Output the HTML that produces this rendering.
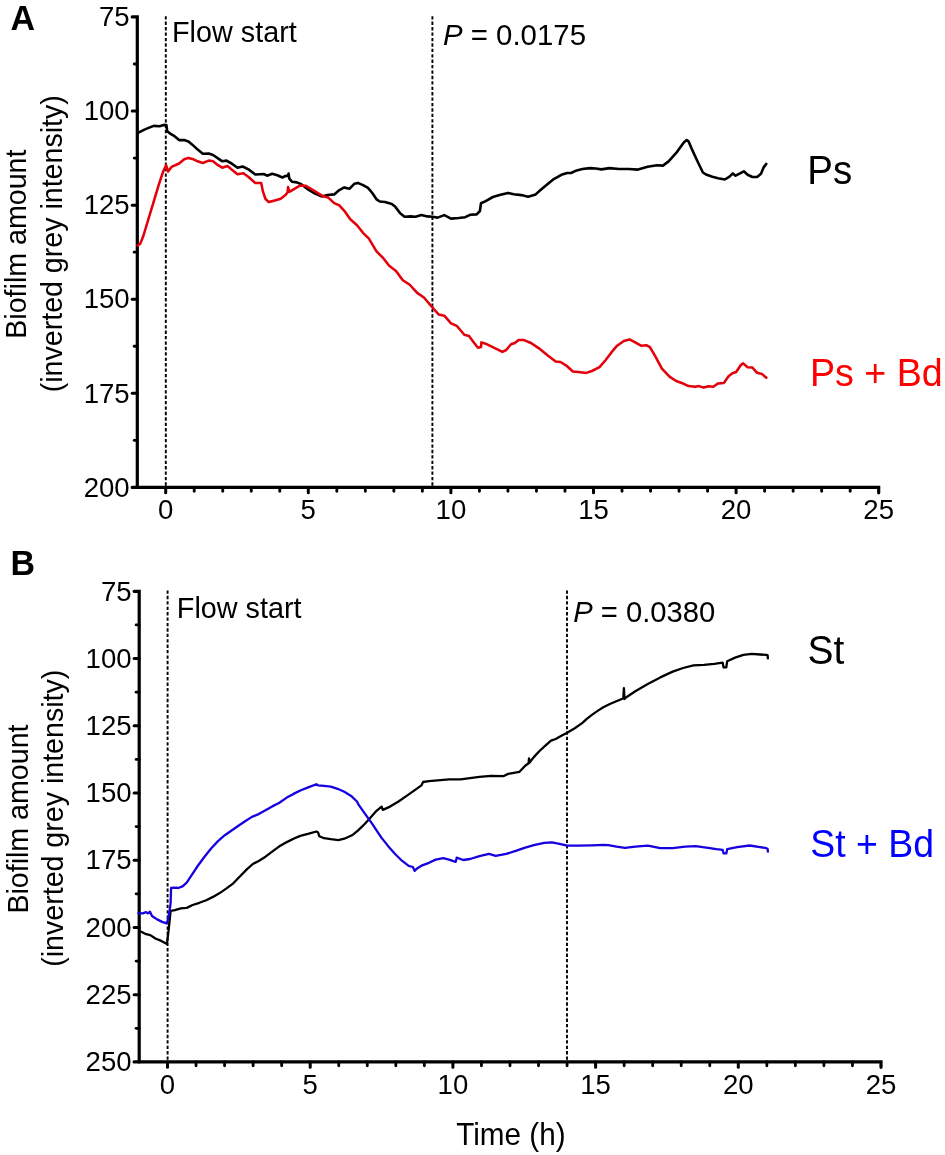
<!DOCTYPE html>
<html><head><meta charset="utf-8"><title>Figure</title>
<style>
html,body{margin:0;padding:0;background:#fff;}
body{width:945px;height:1155px;overflow:hidden;font-family:"Liberation Sans",sans-serif;}
svg{display:block;transform:translateZ(0);will-change:transform;}
text{font-family:"Liberation Sans",sans-serif;fill:#000;}
</style></head><body>
<svg width="945" height="1155" viewBox="0 0 945 1155">
<rect width="945" height="1155" fill="#fff"/>

<g id="panelA">
<line x1="165.8" y1="16.2" x2="165.8" y2="486" stroke="#000" stroke-width="1.9" stroke-dasharray="3.35 2.07"/>
<line x1="432.4" y1="16.2" x2="432.4" y2="486" stroke="#000" stroke-width="1.9" stroke-dasharray="3.35 2.07"/>
<path d="M132.20,16.95 H137.30 V487.40" fill="none" stroke="#000" stroke-width="3.2" stroke-linecap="round" stroke-linejoin="miter"/>
<path d="M132.20,487.40 H878.70 V492.80" fill="none" stroke="#000" stroke-width="3.2" stroke-linecap="round" stroke-linejoin="miter"/>
<text transform="translate(129.70,26.15) scale(1,1.035)" font-size="27.6" text-anchor="end">75</text>
<line x1="134.20" y1="64.00" x2="137.30" y2="64.00" stroke="#000" stroke-width="2.8" stroke-linecap="round"/>
<line x1="132.20" y1="111.04" x2="137.30" y2="111.04" stroke="#000" stroke-width="3" stroke-linecap="round"/>
<text transform="translate(129.70,120.24) scale(1,1.035)" font-size="27.6" text-anchor="end">100</text>
<line x1="134.20" y1="158.09" x2="137.30" y2="158.09" stroke="#000" stroke-width="2.8" stroke-linecap="round"/>
<line x1="132.20" y1="205.13" x2="137.30" y2="205.13" stroke="#000" stroke-width="3" stroke-linecap="round"/>
<text transform="translate(129.70,214.33) scale(1,1.035)" font-size="27.6" text-anchor="end">125</text>
<line x1="134.20" y1="252.18" x2="137.30" y2="252.18" stroke="#000" stroke-width="2.8" stroke-linecap="round"/>
<line x1="132.20" y1="299.22" x2="137.30" y2="299.22" stroke="#000" stroke-width="3" stroke-linecap="round"/>
<text transform="translate(129.70,308.42) scale(1,1.035)" font-size="27.6" text-anchor="end">150</text>
<line x1="134.20" y1="346.26" x2="137.30" y2="346.26" stroke="#000" stroke-width="2.8" stroke-linecap="round"/>
<line x1="132.20" y1="393.31" x2="137.30" y2="393.31" stroke="#000" stroke-width="3" stroke-linecap="round"/>
<text transform="translate(129.70,402.51) scale(1,1.035)" font-size="27.6" text-anchor="end">175</text>
<line x1="134.20" y1="440.36" x2="137.30" y2="440.36" stroke="#000" stroke-width="2.8" stroke-linecap="round"/>
<text transform="translate(129.70,496.60) scale(1,1.035)" font-size="27.6" text-anchor="end">200</text>
<line x1="165.70" y1="487.40" x2="165.70" y2="492.80" stroke="#000" stroke-width="3" stroke-linecap="round"/>
<line x1="194.22" y1="487.40" x2="194.22" y2="491.30" stroke="#000" stroke-width="2.8" stroke-linecap="round"/>
<line x1="222.74" y1="487.40" x2="222.74" y2="491.30" stroke="#000" stroke-width="2.8" stroke-linecap="round"/>
<line x1="251.26" y1="487.40" x2="251.26" y2="491.30" stroke="#000" stroke-width="2.8" stroke-linecap="round"/>
<line x1="279.78" y1="487.40" x2="279.78" y2="491.30" stroke="#000" stroke-width="2.8" stroke-linecap="round"/>
<line x1="308.30" y1="487.40" x2="308.30" y2="492.80" stroke="#000" stroke-width="3" stroke-linecap="round"/>
<line x1="336.82" y1="487.40" x2="336.82" y2="491.30" stroke="#000" stroke-width="2.8" stroke-linecap="round"/>
<line x1="365.34" y1="487.40" x2="365.34" y2="491.30" stroke="#000" stroke-width="2.8" stroke-linecap="round"/>
<line x1="393.86" y1="487.40" x2="393.86" y2="491.30" stroke="#000" stroke-width="2.8" stroke-linecap="round"/>
<line x1="422.38" y1="487.40" x2="422.38" y2="491.30" stroke="#000" stroke-width="2.8" stroke-linecap="round"/>
<line x1="450.90" y1="487.40" x2="450.90" y2="492.80" stroke="#000" stroke-width="3" stroke-linecap="round"/>
<line x1="479.42" y1="487.40" x2="479.42" y2="491.30" stroke="#000" stroke-width="2.8" stroke-linecap="round"/>
<line x1="507.94" y1="487.40" x2="507.94" y2="491.30" stroke="#000" stroke-width="2.8" stroke-linecap="round"/>
<line x1="536.46" y1="487.40" x2="536.46" y2="491.30" stroke="#000" stroke-width="2.8" stroke-linecap="round"/>
<line x1="564.98" y1="487.40" x2="564.98" y2="491.30" stroke="#000" stroke-width="2.8" stroke-linecap="round"/>
<line x1="593.50" y1="487.40" x2="593.50" y2="492.80" stroke="#000" stroke-width="3" stroke-linecap="round"/>
<line x1="622.02" y1="487.40" x2="622.02" y2="491.30" stroke="#000" stroke-width="2.8" stroke-linecap="round"/>
<line x1="650.54" y1="487.40" x2="650.54" y2="491.30" stroke="#000" stroke-width="2.8" stroke-linecap="round"/>
<line x1="679.06" y1="487.40" x2="679.06" y2="491.30" stroke="#000" stroke-width="2.8" stroke-linecap="round"/>
<line x1="707.58" y1="487.40" x2="707.58" y2="491.30" stroke="#000" stroke-width="2.8" stroke-linecap="round"/>
<line x1="736.10" y1="487.40" x2="736.10" y2="492.80" stroke="#000" stroke-width="3" stroke-linecap="round"/>
<line x1="764.62" y1="487.40" x2="764.62" y2="491.30" stroke="#000" stroke-width="2.8" stroke-linecap="round"/>
<line x1="793.14" y1="487.40" x2="793.14" y2="491.30" stroke="#000" stroke-width="2.8" stroke-linecap="round"/>
<line x1="821.66" y1="487.40" x2="821.66" y2="491.30" stroke="#000" stroke-width="2.8" stroke-linecap="round"/>
<line x1="850.18" y1="487.40" x2="850.18" y2="491.30" stroke="#000" stroke-width="2.8" stroke-linecap="round"/>
<text transform="translate(165.70,519.10) scale(1,1.035)" font-size="27.6" text-anchor="middle">0</text>
<text transform="translate(308.30,519.10) scale(1,1.035)" font-size="27.6" text-anchor="middle">5</text>
<text transform="translate(450.90,519.10) scale(1,1.035)" font-size="27.6" text-anchor="middle">10</text>
<text transform="translate(593.50,519.10) scale(1,1.035)" font-size="27.6" text-anchor="middle">15</text>
<text transform="translate(736.10,519.10) scale(1,1.035)" font-size="27.6" text-anchor="middle">20</text>
<text transform="translate(878.70,519.10) scale(1,1.035)" font-size="27.6" text-anchor="middle">25</text>
<path d="M137.6,133.2 L138.5,132.7 L144.4,129.6 L148.6,127.9 L153.7,125.9 L159.6,126.2 L163.9,124.9 L166.4,125.1 L167.2,131.3 L170.6,133.9 L174.9,136.4 L179.1,140.1 L184.2,140.1 L188.4,141.5 L192.6,144.9 L197.7,149.6 L202.8,153.8 L208.7,153.5 L213.0,155.0 L218.0,158.4 L222.3,161.3 L226.5,160.6 L231.6,163.5 L237.5,167.7 L242.6,166.5 L248.5,169.4 L255.3,174.5 L260.4,174.2 L263.8,174.0 L267.1,175.7 L272.2,173.7 L277.3,175.3 L282.4,177.5 L285.1,176.1 L288.2,175.6 L288.6,173.6 L289.3,178.6 L291.9,181.7 L296.9,182.4 L301.2,184.2 L307.1,188.8 L313.9,193.0 L321.5,196.4 L327.4,195.0 L334.2,194.4 L339.3,190.1 L344.3,187.4 L349.4,188.8 L354.5,183.7 L357.9,182.9 L363.0,185.1 L368.0,187.9 L372.3,193.0 L376.5,199.3 L379.9,201.5 L385.0,202.0 L391.8,204.0 L395.1,206.6 L400.2,213.3 L404.5,216.7 L410.4,216.4 L415.5,216.7 L421.4,215.0 L427.3,216.4 L432.4,216.7 L437.6,217.6 L444.3,215.1 L451.0,218.6 L458.6,218.0 L465.2,217.2 L470.0,214.8 L476.7,214.4 L479.9,211.0 L481.0,203.3 L485.2,201.4 L492.9,197.0 L500.5,194.8 L508.1,192.9 L513.8,194.2 L521.4,195.1 L528.1,196.7 L535.7,194.4 L540.5,190.0 L546.2,185.2 L553.8,179.1 L561.4,174.8 L567.1,173.0 L571.0,173.0 L576.7,170.4 L582.4,169.0 L590.0,168.1 L595.7,168.5 L601.4,169.4 L609.5,168.1 L619.0,169.0 L628.6,169.0 L638.1,169.6 L647.6,166.8 L657.1,165.2 L662.9,165.6 L668.6,161.4 L676.2,152.9 L683.8,142.4 L686.7,140.1 L688.6,141.4 L691.4,148.1 L697.1,160.5 L702.9,172.5 L706.7,174.8 L712.4,176.7 L718.1,178.2 L724.8,179.5 L729.5,176.7 L732.8,173.4 L735.6,175.7 L740.0,173.4 L743.8,171.3 L747.6,174.8 L752.4,177.0 L757.1,177.0 L761.0,173.8 L763.8,167.1 L766.3,163.9" fill="none" stroke="#000" stroke-width="2.6" stroke-linejoin="round" stroke-linecap="round"/>
<path d="M137.6,245.3 L140.2,243.9 L143.5,235.5 L148.6,218.5 L153.7,201.6 L158.8,184.7 L163.0,172.0 L166.1,165.2 L168.1,171.5 L171.5,166.9 L179.1,163.5 L184.2,159.3 L188.4,157.9 L193.5,159.3 L197.7,161.3 L202.8,163.0 L208.7,160.6 L213.0,161.3 L218.0,165.2 L222.3,167.7 L227.4,166.0 L231.6,169.4 L237.5,174.2 L243.4,173.3 L248.5,177.0 L255.3,183.0 L261.2,183.0 L262.9,191.4 L265.5,199.0 L268.8,202.1 L273.9,200.7 L280.7,198.7 L285.8,194.8 L287.6,192.2 L288.1,187.1 L289.3,191.8 L294.4,188.8 L300.3,185.4 L305.4,185.7 L313.9,190.5 L322.3,195.9 L328.3,197.6 L334.2,203.2 L339.3,205.4 L344.3,210.8 L350.3,219.3 L357.0,225.2 L363.0,232.8 L368.9,238.7 L376.5,251.4 L383.3,258.2 L389.2,265.8 L396.0,270.9 L402.8,280.2 L409.5,284.5 L417.2,292.9 L423.9,297.5 L432.4,307.3 L433.8,309.0 L438.6,314.4 L444.3,315.7 L451.0,323.3 L456.7,325.8 L464.3,334.8 L469.0,336.1 L473.8,342.4 L478.0,347.7 L481.0,347.1 L481.4,342.4 L487.1,344.3 L494.8,348.1 L502.4,351.9 L506.2,350.0 L511.0,344.3 L514.8,343.0 L518.6,339.9 L523.3,339.9 L531.0,343.0 L538.6,348.1 L548.1,355.7 L555.7,361.4 L560.5,362.0 L567.1,366.2 L572.9,371.5 L580.5,372.3 L586.2,372.9 L591.9,371.0 L599.5,367.1 L605.7,360.0 L611.4,352.4 L617.1,345.7 L623.8,341.0 L629.5,339.4 L635.2,342.3 L641.0,345.7 L646.7,345.3 L649.9,347.2 L655.2,356.2 L661.9,368.6 L669.5,376.6 L676.2,381.0 L683.8,383.8 L688.6,386.1 L695.2,386.7 L699.0,386.1 L703.8,387.6 L708.6,386.3 L713.3,386.7 L718.1,383.4 L723.8,382.9 L728.6,376.2 L732.4,373.3 L736.2,372.0 L741.0,364.8 L743.2,363.4 L747.6,367.2 L752.4,367.6 L757.1,372.8 L761.9,373.9 L766.3,377.7" fill="none" stroke="#e3000b" stroke-width="2.55" stroke-linejoin="round" stroke-linecap="round"/>
<text transform="translate(10.5,29.6) scale(1,1.035)" font-size="34" font-weight="bold">A</text>
<text transform="translate(172.0,41.8) scale(1,1.035)" font-size="28.8">Flow start</text>
<text transform="translate(443,44.9) scale(1,1.035)" font-size="29.4"><tspan font-style="italic">P</tspan> = 0.0175</text>
<text transform="translate(807.3,184) scale(1,1.035)" font-size="38.5">Ps</text>
<text transform="translate(810,385.9) scale(1,1.035)" font-size="37.6" style="fill:#ff0000">Ps + Bd</text>
<text transform="translate(26.0,338.7) rotate(-90) scale(1,1.035)" font-size="28.6">Biofilm amount</text>
<text transform="translate(62.0,392.3) rotate(-90) scale(1,1.035)" font-size="28.6">(inverted grey intensity)</text>
</g>
<g id="panelB">
<line x1="167.6" y1="590.4" x2="167.6" y2="1060" stroke="#000" stroke-width="1.9" stroke-dasharray="3.35 2.07"/>
<line x1="567" y1="590.4" x2="567" y2="1060" stroke="#000" stroke-width="1.9" stroke-dasharray="3.35 2.07"/>
<path d="M134.10,591.30 H139.20 V1061.90" fill="none" stroke="#000" stroke-width="3.2" stroke-linecap="round" stroke-linejoin="miter"/>
<path d="M134.10,1061.90 H881.00 V1067.30" fill="none" stroke="#000" stroke-width="3.2" stroke-linecap="round" stroke-linejoin="miter"/>
<text transform="translate(131.60,600.50) scale(1,1.035)" font-size="27.6" text-anchor="end">75</text>
<line x1="136.10" y1="624.91" x2="139.20" y2="624.91" stroke="#000" stroke-width="2.8" stroke-linecap="round"/>
<line x1="134.10" y1="658.53" x2="139.20" y2="658.53" stroke="#000" stroke-width="3" stroke-linecap="round"/>
<text transform="translate(131.60,667.73) scale(1,1.035)" font-size="27.6" text-anchor="end">100</text>
<line x1="136.10" y1="692.14" x2="139.20" y2="692.14" stroke="#000" stroke-width="2.8" stroke-linecap="round"/>
<line x1="134.10" y1="725.76" x2="139.20" y2="725.76" stroke="#000" stroke-width="3" stroke-linecap="round"/>
<text transform="translate(131.60,734.96) scale(1,1.035)" font-size="27.6" text-anchor="end">125</text>
<line x1="136.10" y1="759.38" x2="139.20" y2="759.38" stroke="#000" stroke-width="2.8" stroke-linecap="round"/>
<line x1="134.10" y1="792.99" x2="139.20" y2="792.99" stroke="#000" stroke-width="3" stroke-linecap="round"/>
<text transform="translate(131.60,802.19) scale(1,1.035)" font-size="27.6" text-anchor="end">150</text>
<line x1="136.10" y1="826.61" x2="139.20" y2="826.61" stroke="#000" stroke-width="2.8" stroke-linecap="round"/>
<line x1="134.10" y1="860.22" x2="139.20" y2="860.22" stroke="#000" stroke-width="3" stroke-linecap="round"/>
<text transform="translate(131.60,869.42) scale(1,1.035)" font-size="27.6" text-anchor="end">175</text>
<line x1="136.10" y1="893.84" x2="139.20" y2="893.84" stroke="#000" stroke-width="2.8" stroke-linecap="round"/>
<line x1="134.10" y1="927.45" x2="139.20" y2="927.45" stroke="#000" stroke-width="3" stroke-linecap="round"/>
<text transform="translate(131.60,936.65) scale(1,1.035)" font-size="27.6" text-anchor="end">200</text>
<line x1="136.10" y1="961.07" x2="139.20" y2="961.07" stroke="#000" stroke-width="2.8" stroke-linecap="round"/>
<line x1="134.10" y1="994.68" x2="139.20" y2="994.68" stroke="#000" stroke-width="3" stroke-linecap="round"/>
<text transform="translate(131.60,1003.88) scale(1,1.035)" font-size="27.6" text-anchor="end">225</text>
<line x1="136.10" y1="1028.29" x2="139.20" y2="1028.29" stroke="#000" stroke-width="2.8" stroke-linecap="round"/>
<text transform="translate(131.60,1071.11) scale(1,1.035)" font-size="27.6" text-anchor="end">250</text>
<line x1="167.50" y1="1061.90" x2="167.50" y2="1067.30" stroke="#000" stroke-width="3" stroke-linecap="round"/>
<line x1="196.04" y1="1061.90" x2="196.04" y2="1065.80" stroke="#000" stroke-width="2.8" stroke-linecap="round"/>
<line x1="224.58" y1="1061.90" x2="224.58" y2="1065.80" stroke="#000" stroke-width="2.8" stroke-linecap="round"/>
<line x1="253.12" y1="1061.90" x2="253.12" y2="1065.80" stroke="#000" stroke-width="2.8" stroke-linecap="round"/>
<line x1="281.66" y1="1061.90" x2="281.66" y2="1065.80" stroke="#000" stroke-width="2.8" stroke-linecap="round"/>
<line x1="310.20" y1="1061.90" x2="310.20" y2="1067.30" stroke="#000" stroke-width="3" stroke-linecap="round"/>
<line x1="338.74" y1="1061.90" x2="338.74" y2="1065.80" stroke="#000" stroke-width="2.8" stroke-linecap="round"/>
<line x1="367.28" y1="1061.90" x2="367.28" y2="1065.80" stroke="#000" stroke-width="2.8" stroke-linecap="round"/>
<line x1="395.82" y1="1061.90" x2="395.82" y2="1065.80" stroke="#000" stroke-width="2.8" stroke-linecap="round"/>
<line x1="424.36" y1="1061.90" x2="424.36" y2="1065.80" stroke="#000" stroke-width="2.8" stroke-linecap="round"/>
<line x1="452.90" y1="1061.90" x2="452.90" y2="1067.30" stroke="#000" stroke-width="3" stroke-linecap="round"/>
<line x1="481.44" y1="1061.90" x2="481.44" y2="1065.80" stroke="#000" stroke-width="2.8" stroke-linecap="round"/>
<line x1="509.98" y1="1061.90" x2="509.98" y2="1065.80" stroke="#000" stroke-width="2.8" stroke-linecap="round"/>
<line x1="538.52" y1="1061.90" x2="538.52" y2="1065.80" stroke="#000" stroke-width="2.8" stroke-linecap="round"/>
<line x1="567.06" y1="1061.90" x2="567.06" y2="1065.80" stroke="#000" stroke-width="2.8" stroke-linecap="round"/>
<line x1="595.60" y1="1061.90" x2="595.60" y2="1067.30" stroke="#000" stroke-width="3" stroke-linecap="round"/>
<line x1="624.14" y1="1061.90" x2="624.14" y2="1065.80" stroke="#000" stroke-width="2.8" stroke-linecap="round"/>
<line x1="652.68" y1="1061.90" x2="652.68" y2="1065.80" stroke="#000" stroke-width="2.8" stroke-linecap="round"/>
<line x1="681.22" y1="1061.90" x2="681.22" y2="1065.80" stroke="#000" stroke-width="2.8" stroke-linecap="round"/>
<line x1="709.76" y1="1061.90" x2="709.76" y2="1065.80" stroke="#000" stroke-width="2.8" stroke-linecap="round"/>
<line x1="738.30" y1="1061.90" x2="738.30" y2="1067.30" stroke="#000" stroke-width="3" stroke-linecap="round"/>
<line x1="766.84" y1="1061.90" x2="766.84" y2="1065.80" stroke="#000" stroke-width="2.8" stroke-linecap="round"/>
<line x1="795.38" y1="1061.90" x2="795.38" y2="1065.80" stroke="#000" stroke-width="2.8" stroke-linecap="round"/>
<line x1="823.92" y1="1061.90" x2="823.92" y2="1065.80" stroke="#000" stroke-width="2.8" stroke-linecap="round"/>
<line x1="852.46" y1="1061.90" x2="852.46" y2="1065.80" stroke="#000" stroke-width="2.8" stroke-linecap="round"/>
<text transform="translate(167.50,1093.60) scale(1,1.035)" font-size="27.6" text-anchor="middle">0</text>
<text transform="translate(310.20,1093.60) scale(1,1.035)" font-size="27.6" text-anchor="middle">5</text>
<text transform="translate(452.90,1093.60) scale(1,1.035)" font-size="27.6" text-anchor="middle">10</text>
<text transform="translate(595.60,1093.60) scale(1,1.035)" font-size="27.6" text-anchor="middle">15</text>
<text transform="translate(738.30,1093.60) scale(1,1.035)" font-size="27.6" text-anchor="middle">20</text>
<text transform="translate(881.00,1093.60) scale(1,1.035)" font-size="27.6" text-anchor="middle">25</text>
<path d="M139.3,930.7 L145.2,933.8 L150.3,935.1 L155.4,938.5 L161.3,940.9 L166.9,943.9 L168.6,930.4 L170.6,910.9 L174.9,910.1 L180.8,908.4 L186.7,907.9 L192.6,905.0 L199.4,902.8 L206.2,900.2 L213.0,896.9 L219.7,893.1 L226.5,888.4 L233.3,883.3 L240.1,876.2 L246.8,869.4 L252.8,864.0 L258.7,861.0 L265.5,856.7 L272.2,851.6 L279.0,846.6 L286.8,842.1 L293.5,838.7 L300.3,835.9 L308.8,833.7 L316.4,831.5 L318.1,832.5 L319.3,836.2 L324.0,838.2 L330.8,839.2 L338.4,840.1 L344.3,838.7 L352.0,835.3 L357.9,830.6 L364.7,824.0 L369.7,818.4 L376.5,810.8 L381.6,806.6 L382.8,809.9 L390.1,806.6 L398.5,801.5 L407.0,795.6 L415.5,789.6 L421.4,785.4 L423.1,782.0 L429.0,781.2 L437.6,780.4 L449.0,779.4 L460.5,779.4 L470.0,778.1 L479.5,776.8 L491.0,775.8 L503.3,776.2 L508.1,773.9 L519.5,771.8 L525.2,765.7 L528.6,763.3 L529.0,758.5 L529.6,762.5 L533.8,757.1 L539.5,751.0 L546.2,744.8 L551.0,740.6 L555.7,739.0 L561.4,735.8 L567.1,732.8 L574.8,728.2 L582.4,722.9 L587.1,718.7 L591.9,714.9 L597.6,710.9 L603.3,707.2 L610.4,703.8 L621.8,699.0 L623.3,698.5 L623.9,688.2 L624.5,699.0 L626.0,697.5 L635.3,691.3 L647.8,684.0 L660.3,677.4 L672.7,671.6 L683.1,668.0 L693.5,665.3 L703.9,664.9 L714.3,663.9 L722.6,662.6 L723.6,667.4 L726.3,667.4 L727.2,661.2 L735.1,657.6 L743.4,654.9 L751.7,653.9 L760.0,654.5 L766.4,654.9 L767.6,655.4 L767.9,658.4" fill="none" stroke="#000" stroke-width="2.3" stroke-linejoin="round" stroke-linecap="round"/>
<path d="M138.5,913.1 L142.7,913.4 L146.1,912.1 L147.8,913.4 L150.0,911.8 L152.0,916.0 L157.1,919.4 L162.2,921.9 L166.9,923.3 L168.9,915.1 L170.6,903.3 L171.1,888.0 L174.9,887.7 L178.3,888.0 L182.5,886.4 L186.7,882.6 L191.0,876.2 L197.7,866.0 L204.5,856.7 L211.3,848.3 L218.0,841.1 L224.8,835.2 L231.6,830.5 L238.4,825.7 L245.1,821.2 L251.9,816.9 L258.7,814.1 L265.5,810.2 L272.2,806.4 L279.0,803.0 L286.8,797.6 L293.5,793.9 L300.3,790.5 L308.8,787.1 L316.4,784.2 L318.1,785.4 L324.0,785.9 L330.8,786.6 L337.6,788.8 L344.3,791.7 L351.1,795.9 L357.0,801.5 L358.7,804.9 L364.7,813.3 L371.4,822.6 L378.2,832.8 L381.6,837.9 L388.4,846.4 L395.1,854.0 L401.9,860.7 L408.7,865.8 L412.9,867.0 L414.6,870.9 L417.1,868.4 L422.2,865.3 L429.0,862.8 L435.7,859.6 L443.3,858.1 L449.0,859.6 L455.7,861.9 L456.7,857.7 L463.3,860.0 L470.0,859.0 L479.5,856.2 L489.0,853.9 L495.7,855.8 L506.2,853.9 L515.7,850.9 L525.2,847.6 L534.8,844.8 L544.3,842.9 L551.9,842.3 L559.5,843.8 L567.1,845.7 L578.6,845.7 L591.9,845.3 L603.3,844.8 L608.3,845.1 L616.6,846.7 L624.9,847.8 L635.3,846.7 L647.8,845.7 L660.3,848.2 L672.7,848.2 L685.2,846.7 L695.6,846.1 L708.1,847.8 L716.4,849.2 L722.6,849.8 L723.6,853.4 L726.3,853.4 L727.2,849.2 L737.1,847.1 L749.6,845.5 L760.0,847.1 L766.4,848.2 L767.6,848.9 L767.9,851.6" fill="none" stroke="#1600e0" stroke-width="2.3" stroke-linejoin="round" stroke-linecap="round"/>
<text transform="translate(10.6,575.4) scale(1,1.035)" font-size="34" font-weight="bold">B</text>
<text transform="translate(176.8,618) scale(1,1.035)" font-size="28.8">Flow start</text>
<text transform="translate(573.2,622) scale(1,1.035)" font-size="29.2"><tspan font-style="italic">P</tspan> = 0.0380</text>
<text transform="translate(807.5,663.9) scale(1,1.035)" font-size="39">St</text>
<text transform="translate(810.3,856.9) scale(1,1.035)" font-size="37.4" style="fill:#0000ff">St + Bd</text>
<text transform="translate(28.0,913.6) rotate(-90) scale(1,1.035)" font-size="28.6">Biofilm amount</text>
<text transform="translate(63.4,966.8) rotate(-90) scale(1,1.035)" font-size="28.6">(inverted grey intensity)</text>
<text transform="translate(456.2,1144.7) scale(1,1.035)" font-size="29.7">Time (h)</text>
</g>
</svg></body></html>
